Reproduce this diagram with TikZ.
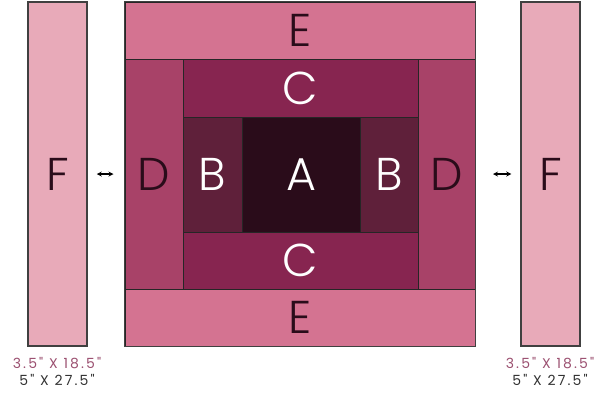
\documentclass[tikz,border=0pt]{standalone}
\usepackage{fontspec}
\usetikzlibrary{positioning}
\newfontfamily\blockfont{Poppins}[UprightFont={* Light}]
\newfontfamily\sizefont{Poppins}[LetterSpace=15]
\definecolor{fpink}{RGB}{232,170,185}
\definecolor{epink}{RGB}{212,115,145}
\definecolor{dpink}{RGB}{168,66,104}
\definecolor{cplum}{RGB}{135,37,80}
\definecolor{bplum}{RGB}{95,32,58}
\definecolor{aplum}{RGB}{42,12,26}
\definecolor{cutmauve}{RGB}{155,80,112}
\definecolor{cutgray}{RGB}{50,50,50}
\begin{document}
\begin{tikzpicture}[x=1pt,y=-1pt,
  patch/.style={draw=black!85,line width=1pt,inner sep=0pt,
    font=\blockfont\fontsize{46}{46}\selectfont},
  darktext/.style={text=aplum},
  lighttext/.style={text=white},
  cutsize/.style={font=\sizefont\fontsize{14}{15}\selectfont,inner sep=0pt}]
\useasboundingbox (0,0) rectangle (605,399);
% centre block, from the outside in
\node[patch,darktext,fill=epink,minimum width=350pt,minimum height=57pt] (eTop) at (300,30.5) {E};
\node[patch,darktext,fill=epink,minimum width=350pt,minimum height=57pt] (eBot) at (300,317.5) {E};
\node[patch,darktext,fill=dpink,minimum width=58pt,minimum height=230pt] (dLeft) at (154,174) {D};
\node[patch,darktext,fill=dpink,minimum width=58pt,minimum height=230pt] (dRight) at (446.5,174) {D};
\node[patch,lighttext,fill=cplum,minimum width=235pt,minimum height=58pt] (cTop) at (300.5,88) {C};
\node[patch,lighttext,fill=cplum,minimum width=235pt,minimum height=57pt] (cBot) at (300.5,260.5) {C};
\node[patch,lighttext,fill=bplum,minimum width=59pt,minimum height=115pt] (bLeft) at (212.5,174.5) {B};
\node[patch,lighttext,fill=bplum,minimum width=58pt,minimum height=115pt] (bRight) at (389,174.5) {B};
\node[patch,lighttext,fill=aplum,minimum width=118pt,minimum height=115pt] (aMid) at (301,174.5) {A};
\draw[draw=black!75,line width=1.5pt] (eTop.north west) rectangle (eBot.south east);
% side strips
\node[patch,darktext,fill=fpink,draw=black!75,line width=1.5pt,minimum width=59pt,minimum height=344pt] (fLeft) at (57.5,174) {F};
\node[patch,darktext,fill=fpink,draw=black!75,line width=1.5pt,minimum width=59pt,minimum height=344pt] (fRight) at (550.5,174) {F};
\draw[<->,>=stealth,line width=1.2pt,shorten <=9pt,shorten >=11pt] (fLeft.east) -- (dLeft.west);
\draw[<->,>=stealth,line width=1.2pt,shorten <=17pt,shorten >=9pt] (dRight.east) -- (fRight.west);
% cut sizes
\foreach \f/\x in {fLeft/57,fRight/550} {
  \node[cutsize,text=cutmauve] (\f Cut) at (\x,363) {3.5" X 18.5"};
  \node[cutsize,text=cutgray,below=5pt of \f Cut] (\f Fin) {5" X 27.5"};
}
\end{tikzpicture}
\end{document}
